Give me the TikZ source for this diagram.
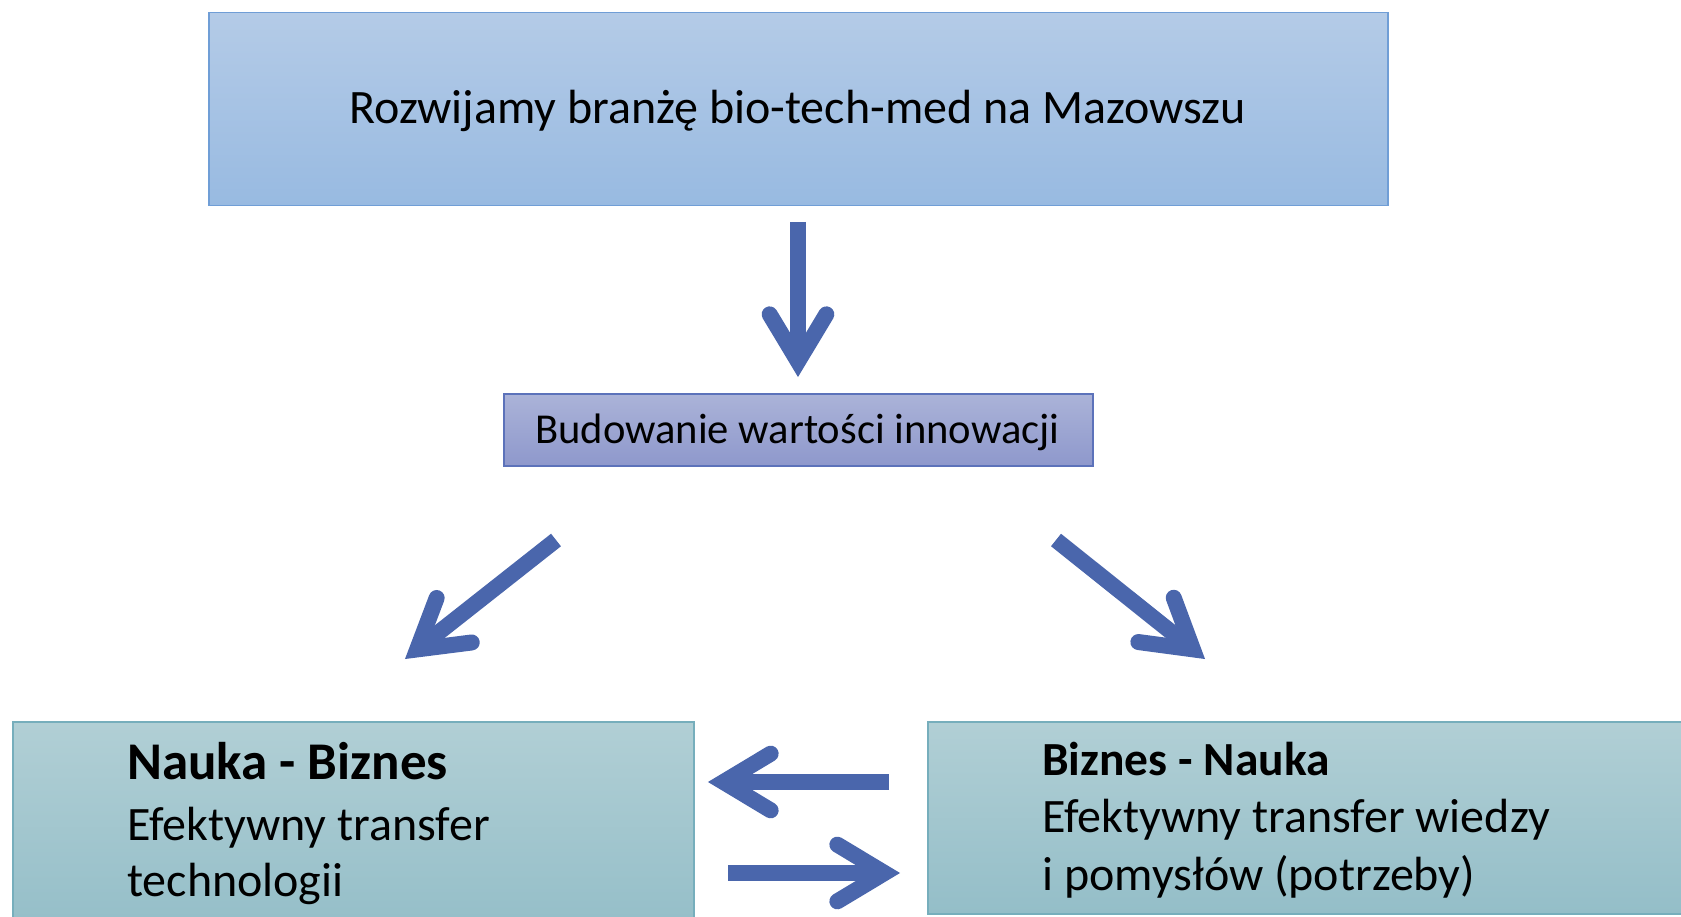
\documentclass[tikz,border=0pt]{standalone}
\usepackage{fontspec}
\setmainfont{Carlito}
\usetikzlibrary{calc}

\definecolor{arrowblue}{HTML}{4A66AC}
\definecolor{topA}{RGB}{180,203,231}
\definecolor{topB}{RGB}{152,186,225}
\definecolor{topEdge}{RGB}{112,158,214}
\definecolor{midA}{RGB}{171,179,216}
\definecolor{midB}{RGB}{142,152,204}
\definecolor{midEdge}{RGB}{92,114,186}
\definecolor{tealA}{RGB}{177,207,213}
\definecolor{tealB}{RGB}{148,190,200}
\definecolor{tealEdge}{RGB}{118,174,188}

% thick blue arrow: butt-ended shaft, chevron head with round arm ends
\newcommand\fatarrow[2]{%
  \coordinate (v) at ($(#2)!15.5pt!(#1)$);
  \draw[arrowshaft] (#1) -- (v);
  \draw[arrowchevron] ($(v)!55pt!31:(#1)$) -- (v) -- ($(v)!55pt!-31:(#1)$);
}

\begin{document}
\begin{tikzpicture}[x=1pt,y=-1pt,
  boxbase/.style={inner sep=0pt, anchor=north west, line width=1.5pt},
  topbox/.style={boxbase, draw=topEdge, top color=topA, bottom color=topB},
  midbox/.style={boxbase, draw=midEdge, top color=midA, bottom color=midB},
  tealbox/.style={boxbase, draw=tealEdge, top color=tealA, bottom color=tealB},
  arrowshaft/.style={draw=arrowblue, line width=16pt, line cap=butt},
  arrowchevron/.style={draw=arrowblue, line width=16pt, line cap=round, line join=miter, miter limit=10},
  txt/.style={inner sep=0pt, text=black},
  bodytxt/.style={txt, anchor=base west, font=\fontsize{48}{57}\selectfont},
]
\useasboundingbox (0,0) rectangle (1681,917);
\clip (0,0) rectangle (1681,917);

% boxes
\node[topbox, minimum width=1179pt, minimum height=193pt] (goal) at (208,12) {};
\node[midbox, minimum width=589pt, minimum height=72pt] (value) at (503,393) {};
\node[tealbox, minimum width=681pt, minimum height=210pt] (sci) at (12,721) {};
\node[tealbox, minimum width=770pt, minimum height=192pt] (biz) at (927,721) {};

% texts
\node[txt, anchor=base] (goalT) at (797.5,124)
  {\fontsize{48}{58}\selectfont Rozwijamy branżę bio-tech-med na Mazowszu};
\node[txt, anchor=base] (valueT) at (797.5,443)
  {\fontsize{42.6}{50}\selectfont Budowanie wartości innowacji};

\node[txt, anchor=base west] (sciA) at (127,779)
  {\fontsize{53}{64}\selectfont\bfseries Nauka - Biznes};
\node[bodytxt] (sciB) at (127,840) {Efektywny transfer};
\node[bodytxt] (sciC) at (127,896) {technologii};

\node[txt, anchor=base west] (bizA) at (1042,775)
  {\fontsize{47.5}{56}\selectfont\bfseries Biznes - Nauka};
\node[bodytxt] (bizB) at (1042,832) {Efektywny transfer wiedzy};
\node[bodytxt] (bizC) at (1042,890) {i pomysłów (potrzeby)};

% arrow end points
\coordinate (downS) at (798,222);
\coordinate (downT) at (798,377);
\coordinate (leftS) at (556,540);
\coordinate (leftT) at (405,659);
\coordinate (rightS) at (1056,540);
\coordinate (rightT) at (1205,659);
\coordinate (backS) at (889,782);
\coordinate (backT) at (708,782);
\coordinate (fwdS) at (728,873);
\coordinate (fwdT) at (900,873);

\fatarrow{downS}{downT}
\fatarrow{leftS}{leftT}
\fatarrow{rightS}{rightT}
\fatarrow{backS}{backT}
\fatarrow{fwdS}{fwdT}
\end{tikzpicture}
\end{document}
